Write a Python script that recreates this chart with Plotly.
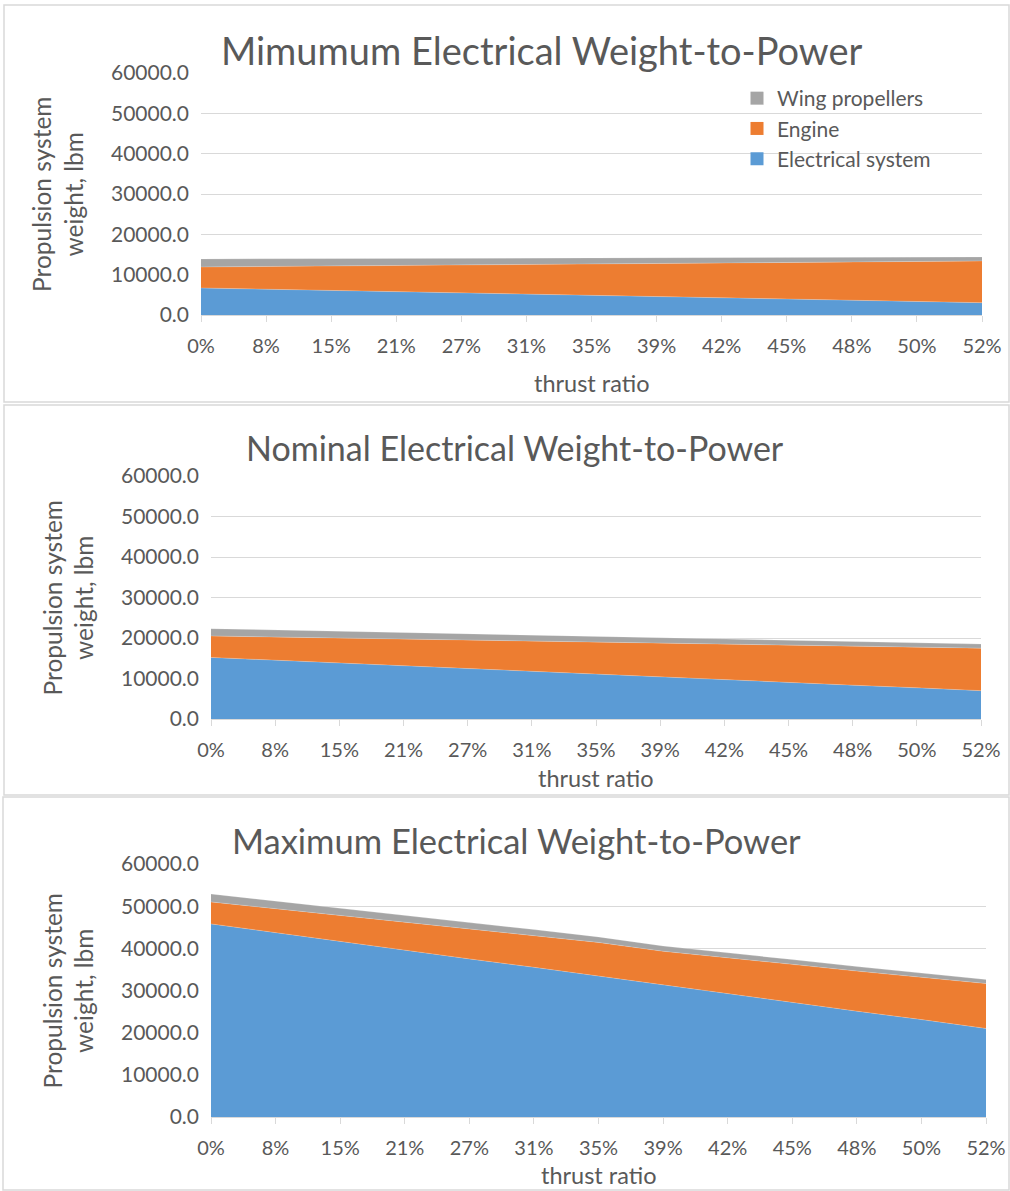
import plotly.graph_objects as go

# Thrust ratio categories (x axis)
thrust_ratio = ["0%", "8%", "15%", "21%", "27%", "31%", "35%", "39%", "42%", "45%", "48%", "50%", "52%"]

# Component weights, lbm -- minimum electrical weight-to-power
elec_min = [6700, 6400, 6100, 5800, 5500, 5200, 4900, 4600, 4300, 4000, 3700, 3350, 3050]
engine_min = [5200, 5625, 6050, 6475, 6900, 7325, 7750, 8175, 8600, 9025, 9450, 9925, 10350]
props_min = [2000, 1920, 1830, 1750, 1670, 1580, 1500, 1420, 1330, 1250, 1170, 1080, 1000]

# nominal electrical weight-to-power
elec_nom = [15200, 14500, 13900, 13200, 12500, 11800, 11100, 10400, 9750, 9050, 8350, 7700, 7000]
engine_nom = [5300, 5750, 6100, 6550, 7000, 7450, 7900, 8350, 8750, 9200, 9650, 10050, 10500]
props_nom = [1800, 1730, 1670, 1600, 1530, 1470, 1400, 1330, 1270, 1200, 1130, 1070, 1000]

# maximum electrical weight-to-power
elec_max = [45800, 43700, 41700, 39600, 37500, 35500, 33400, 31300, 29300, 27200, 25100, 23100, 21000]
engine_max = [5200, 5700, 6200, 6700, 7200, 7600, 8000, 8000, 8500, 9000, 9500, 10100, 10650]
props_max = [1900, 1770, 1650, 1520, 1400, 1350, 1300, 1250, 1190, 1130, 1070, 1010, 950]

panel_titles = ["Mimumum Electrical Weight-to-Power",
                "Nominal Electrical Weight-to-Power",
                "Maximum Electrical Weight-to-Power"]
series_names = ["Electrical system", "Engine", "Wing propellers"]
y_ticks = [0, 10000, 20000, 30000, 40000, 50000, 60000]

W, H = 1010, 1191
COLORS = ["#5B9BD5", "#ED7D31", "#A5A5A5"]
TXT = "#595959"
GRID = "#D9D9D9"
FONT = "Lato"


def fx(px):
    return px / W


def fy(py):
    return 1 - py / H


# pixel layout of each panel: plot box, title, tick/axis labels, frame
panels = [
    dict(data=[elec_min, engine_min, props_min], x0=201, x1=982, ytop=73, ybot=315,
         title_y=50, title_x=541, title_size=38, xtitle_y=383, ytitle_x=57,
         frame=(4, 5, 1009, 402)),
    dict(data=[elec_nom, engine_nom, props_nom], x0=211, x1=981, ytop=476, ybot=719,
         title_y=448, title_x=515, title_size=34, xtitle_y=778, ytitle_x=68,
         frame=(4, 405, 1009, 795)),
    dict(data=[elec_max, engine_max, props_max], x0=211, x1=986, ytop=864, ybot=1117,
         title_y=840, title_x=516, title_size=34.5, xtitle_y=1175, ytitle_x=68,
         frame=(3, 797, 1009, 1190)),
]

fig = go.Figure()
annotations = []
shapes = []

for i, p in enumerate(panels):
    n = "" if i == 0 else str(i + 1)
    xa, ya = "x" + n, "y" + n
    for name, vals, col in zip(series_names, p["data"], COLORS):
        fig.add_trace(go.Scatter(
            x=thrust_ratio, y=vals, name=name, mode="lines",
            stackgroup="s%d" % i, line=dict(width=0.6, color="rgba(255,255,255,0.35)"),
            fillcolor=col, xaxis=xa, yaxis=ya, showlegend=False,
        ))

    fig.layout["xaxis" + n] = dict(
        domain=[fx(p["x0"]), fx(p["x1"])], anchor=ya, type="category",
        range=[0, len(thrust_ratio) - 1], showgrid=False, showline=True,
        linecolor=GRID, linewidth=1, ticks="outside", ticklen=6, tickcolor=GRID,
        tickfont=dict(family=FONT, size=20, color=TXT), ticklabelstandoff=7,
        zeroline=False, automargin=False,
    )
    fig.layout["yaxis" + n] = dict(
        domain=[fy(p["ybot"]), fy(p["ytop"])], anchor=xa, range=[0, 60000],
        tickvals=y_ticks, tickformat=".1f", showgrid=True, gridcolor=GRID,
        gridwidth=1, showline=False, ticks="", zeroline=False,
        tickfont=dict(family=FONT, size=21, color=TXT), ticklabelstandoff=11,
        automargin=False,
    )

    annotations.append(dict(
        text=panel_titles[i], x=fx(p["title_x"]), y=fy(p["title_y"]),
        xref="paper", yref="paper", showarrow=False, xanchor="center", yanchor="middle",
        font=dict(family=FONT, size=p["title_size"], color=TXT)))
    annotations.append(dict(
        text="thrust ratio", x=fx((p["x0"] + p["x1"]) / 2), y=fy(p["xtitle_y"]),
        xref="paper", yref="paper", showarrow=False, xanchor="center", yanchor="middle",
        font=dict(family=FONT, size=23.5, color=TXT)))
    annotations.append(dict(
        text="Propulsion system<br>weight, lbm", x=fx(p["ytitle_x"]),
        y=fy((p["ytop"] + p["ybot"]) / 2), xref="paper", yref="paper",
        showarrow=False, textangle=-90, xanchor="center", yanchor="middle",
        font=dict(family=FONT, size=24.5, color=TXT)))

    fx0, fy0, fx1, fy1 = p["frame"]
    shapes.append(dict(type="rect", xref="paper", yref="paper",
                       x0=fx(fx0), x1=fx(fx1), y0=fy(fy1), y1=fy(fy0),
                       line=dict(color=GRID, width=1.5), fillcolor="rgba(0,0,0,0)",
                       layer="below"))

# legend entries drawn as square swatches, top entry first
for name, col in zip(series_names[::-1], COLORS[::-1]):
    fig.add_trace(go.Scatter(
        x=[None], y=[None], mode="markers", name=name,
        marker=dict(symbol="square", size=13, color=col),
        xaxis="x", yaxis="y", showlegend=True, legendgroup=name,
    ))

fig.update_layout(
    width=W, height=H, margin=dict(l=0, r=0, t=0, b=0, autoexpand=False),
    paper_bgcolor="white", plot_bgcolor="white",
    annotations=annotations, shapes=shapes,
    legend=dict(x=fx(737), y=fy(78), xanchor="left", yanchor="top",
                traceorder="grouped", font=dict(family=FONT, size=21, color=TXT),
                bgcolor="rgba(0,0,0,0)", tracegroupgap=0, itemwidth=30),
)

fig.write_html("out.html")
